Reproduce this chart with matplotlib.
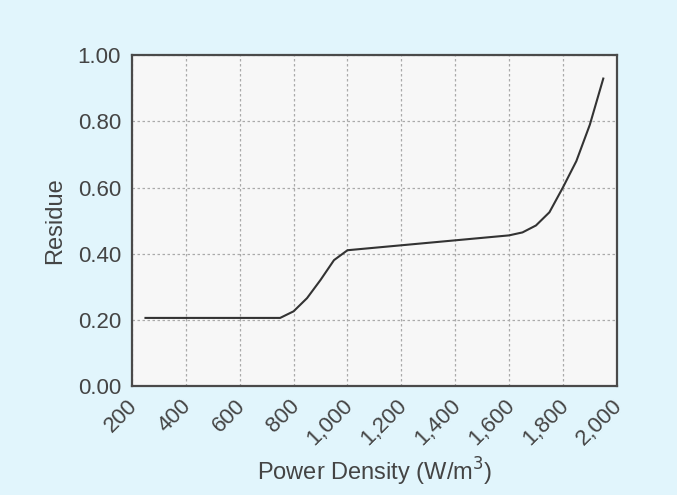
import matplotlib
matplotlib.use("Agg")
import matplotlib.pyplot as plt
from matplotlib.ticker import FuncFormatter
from matplotlib.transforms import ScaledTranslation

# power density (W/m^3) and residue
power_density = [250, 300, 400, 500, 600, 700, 750, 800, 850, 900, 950, 1000,
                 1200, 1400, 1600, 1650, 1700, 1750, 1800, 1850, 1900, 1950]
residue = [0.205, 0.205, 0.205, 0.205, 0.205, 0.205, 0.205, 0.225, 0.265, 0.32,
           0.38, 0.41, 0.425, 0.44, 0.455, 0.464, 0.485, 0.525, 0.60, 0.68,
           0.79, 0.93]

x_ticks = [200, 400, 600, 800, 1000, 1200, 1400, 1600, 1800, 2000]
y_ticks = [0.0, 0.2, 0.4, 0.6, 0.8, 1.0]

plt.rcParams["font.family"] = ["Liberation Sans", "DejaVu Sans"]
text_col = "#444444"

fig = plt.figure(figsize=(6.77, 4.95), dpi=100)
fig.patch.set_facecolor("#e1f5fc")
ax = fig.add_axes([0.195, 0.221, 0.716, 0.667])
ax.set_facecolor("#f7f7f7")

ax.plot(power_density, residue, color="#333333", linewidth=1.5)

ax.set_xlim(200, 2000)
ax.set_ylim(0, 1.0)
ax.set_xticks(x_ticks)
ax.set_yticks(y_ticks)
ax.xaxis.set_major_formatter(FuncFormatter(lambda v, p: f"{int(v):,}"))
ax.yaxis.set_major_formatter(FuncFormatter(lambda v, p: f"{v:.2f}"))
ax.tick_params(length=0, labelsize=16, colors=text_col)
ax.tick_params(axis="y", pad=8)
ax.tick_params(axis="x", pad=5)
# nudge the rotated labels left/down so their ends sit just under the ticks
shift = ScaledTranslation(-5 / 100, -3 / 100, fig.dpi_scale_trans)
for lab in ax.get_xticklabels():
    lab.set_rotation(45)
    lab.set_ha("right")
    lab.set_rotation_mode("anchor")
    lab.set_transform(lab.get_transform() + shift)

ax.grid(True, color="#aaaaaa", linestyle=(0, (2, 2)), linewidth=0.9)
ax.set_axisbelow(True)
for s in ax.spines.values():
    s.set_color("#4a4a4a")
    s.set_linewidth(1.6)

ax.set_xlabel("Power Density (W/m$^3$)", fontsize=17, color=text_col, labelpad=4)
ax.set_ylabel("Residue", fontsize=17, color=text_col, labelpad=8)

fig.savefig("out.png", dpi=100, facecolor=fig.get_facecolor())
